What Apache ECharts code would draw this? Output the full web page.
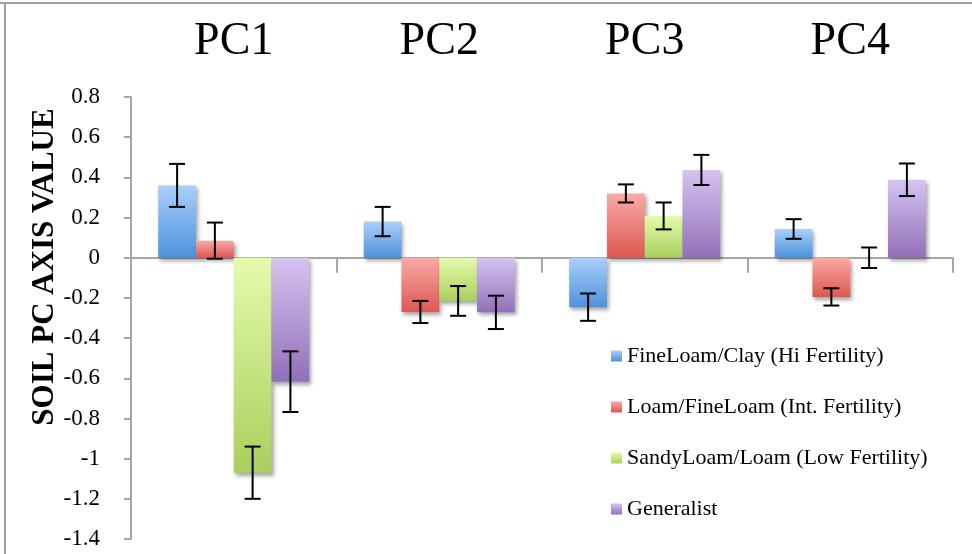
<!DOCTYPE html>
<html><head><meta charset="utf-8">
<script src="https://cdn.jsdelivr.net/npm/echarts@6/dist/echarts.min.js"></script>
<style>html,body{margin:0;padding:0;background:#fff}#c{width:972px;height:554px}</style>
</head><body><div id="c"></div>
<script>
const categories = ['PC1', 'PC2', 'PC3', 'PC4'];
const seriesNames = ['FineLoam/Clay (Hi Fertility)', 'Loam/FineLoam (Int. Fertility)', 'SandyLoam/Loam (Low Fertility)', 'Generalist'];
const fineLoamClay = [0.36, 0.18, -0.246, 0.143];
const loamFineLoam = [0.085, -0.27, 0.32, -0.195];
const sandyLoam = [-1.07, -0.215, 0.208, 0.0];
const generalist = [-0.617, -0.272, 0.437, 0.388];
const fineLoamClayErr = [0.107, 0.073, 0.068, 0.049];
const loamFineLoamErr = [0.09, 0.055, 0.045, 0.043];
const sandyLoamErr = [0.13, 0.074, 0.067, 0.051];
const generalistErr = [0.151, 0.083, 0.075, 0.081];
const yTicks = { min: -1.4, max: 0.8, interval: 0.2 };

const values = [fineLoamClay, loamFineLoam, sandyLoam, generalist];
const errors = [fineLoamClayErr, loamFineLoamErr, sandyLoamErr, generalistErr];
const gradStops = [['#aacffb', '#4e92da'], ['#fbaaa6', '#dc5850'], ['#e4fbac', '#aacf5c'], ['#d6c3f0', '#9270b9']];
const FONT = 'Liberation Serif';
const GAP = 0.265;

function grad(c) {
  return new echarts.graphic.LinearGradient(0, 0, 0, 1, [{ offset: 0, color: c[0] }, { offset: 1, color: c[1] }]);
}

const series = [];
values.forEach((vals, i) => {
  series.push({
    name: seriesNames[i], type: 'bar', data: vals, barGap: 0, barCategoryGap: (GAP * 100) + '%',
    itemStyle: { color: grad(gradStops[i]), shadowBlur: 4, shadowColor: 'rgba(0,0,0,0.35)', shadowOffsetX: 2, shadowOffsetY: 3 },
    z: 2
  });
});
values.forEach((vals, i) => {
  series.push({
    type: 'custom', name: 'err' + i, z: 5,
    data: vals.map((v, k) => [k, v - errors[i][k], v + errors[i][k]]),
    encode: { x: 0, y: [1, 2] },
    renderItem: function (params, api) {
      const band = api.size([1, 0])[0];
      const bw = band * (1 - GAP) / 4;
      const off = -band * (1 - GAP) / 2 + bw * (i + 0.5);
      const lo = api.coord([api.value(0), api.value(1)]);
      const hi = api.coord([api.value(0), api.value(2)]);
      const x = lo[0] + off;
      const cap = 8;
      const st = { stroke: '#000', lineWidth: 2 };
      return { type: 'group', children: [
        { type: 'line', shape: { x1: x, y1: lo[1], x2: x, y2: hi[1] }, style: st },
        { type: 'line', shape: { x1: x - cap, y1: lo[1], x2: x + cap, y2: lo[1] }, style: st },
        { type: 'line', shape: { x1: x - cap, y1: hi[1], x2: x + cap, y2: hi[1] }, style: st }
      ] };
    }
  });
});

const chart = echarts.init(document.getElementById('c'), null, { renderer: 'canvas' });
chart.setOption({
  animation: false,
  backgroundColor: '#fff',
  textStyle: { fontFamily: FONT },
  grid: { left: 131, right: 19, top: 97, bottom: 15, containLabel: false },
  legend: {
    data: seriesNames, orient: 'vertical', left: 606, top: 339, itemWidth: 11, itemHeight: 11, itemGap: 27,
    icon: 'rect',
    textStyle: { fontFamily: FONT, fontSize: 22, color: '#000', lineHeight: 24 }
  },
  xAxis: [{
    type: 'category', data: categories,
    axisLine: { onZero: true, lineStyle: { color: '#a6a6a6', width: 2 } },
    axisTick: { show: true, length: 15, lineStyle: { color: '#a6a6a6', width: 2 } },
    axisLabel: { show: false }
  }, {
    type: 'category', data: categories, position: 'top',
    axisLine: { show: false }, axisTick: { show: false },
    axisLabel: { show: true, fontFamily: FONT, fontSize: 46, color: '#000', margin: 32 }
  }],
  yAxis: {
    type: 'value', min: yTicks.min, max: yTicks.max, interval: yTicks.interval,
    name: 'SOIL PC AXIS VALUE', nameLocation: 'middle', nameGap: 71, nameMoveOverlap: false,
    nameTextStyle: { fontFamily: FONT, fontWeight: 'bold', fontSize: 31, color: '#000', padding: [0, 0, 0, 102] },
    axisLine: { show: true, lineStyle: { color: '#a6a6a6', width: 2 } },
    axisTick: { show: true, length: 7, lineStyle: { color: '#a6a6a6', width: 2 } },
    splitLine: { show: false },
    axisLabel: { fontFamily: FONT, fontSize: 23, color: '#000', margin: 31,
      formatter: v => String(+(+v).toFixed(1)) }
  },
  graphic: [
    { type: 'line', shape: { x1: 0, y1: 3, x2: 972, y2: 3 }, style: { stroke: '#a0a0a0', lineWidth: 2 } },
    { type: 'line', shape: { x1: 5, y1: 3, x2: 5, y2: 554 }, style: { stroke: '#a0a0a0', lineWidth: 2 } }
  ],
  series: series
});
</script></body></html>
